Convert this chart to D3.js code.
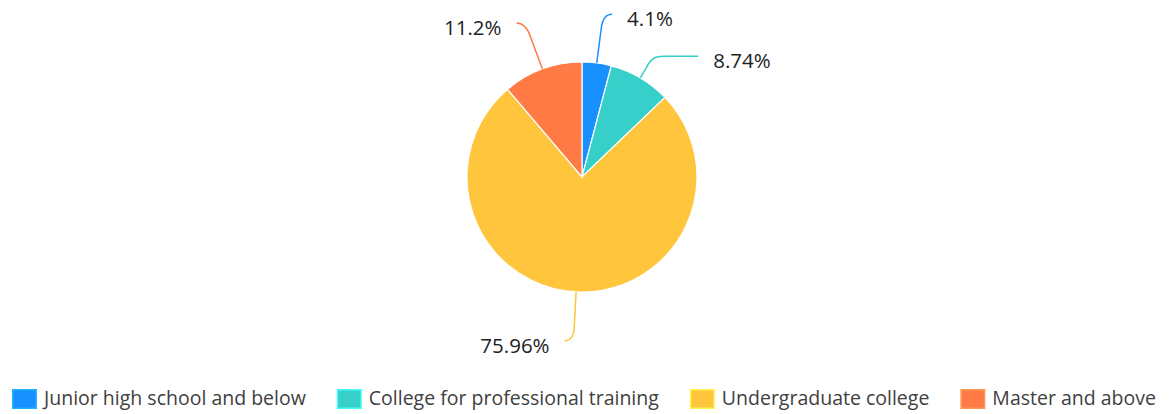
<!DOCTYPE html>
<html><head><meta charset="utf-8">
<script src="https://cdn.jsdelivr.net/npm/d3@7"></script>
<style>html,body{margin:0;padding:0;background:#fff;}svg{display:block;}</style>
</head><body>
<svg id="chart" width="1170" height="414"></svg>
<script>
const categories = ["Junior high school and below","College for professional training","Undergraduate college","Master and above"];
const values = [4.1, 8.74, 75.96, 11.2];
const labels = ["4.1%", "8.74%", "75.96%", "11.2%"];
const colors = ["#1890FF", "#36CFC9", "#FFC53D", "#FF7A45"];

const W = 1170, H = 414;
const cx = 582, cy = 177, R = 115;
const svg = d3.select("#chart");
const FONT = "'Open Sans', 'Noto Sans', sans-serif";

const pie = d3.pie().sort(null).value(d => d.v);
const data = pie(categories.map((c, i) => ({c, v: values[i], label: labels[i], color: colors[i]})));
const arc = d3.arc().innerRadius(0).outerRadius(R);

const g = svg.append("g").attr("transform", `translate(${cx},${cy})`);
g.selectAll("path.slice").data(data).join("path")
  .attr("class", "slice")
  .attr("d", arc)
  .attr("fill", d => d.data.color)
  .attr("stroke", "#fff").attr("stroke-width", 1.2);

// label layout
const polar = (a, r) => [Math.sin(a) * r, -Math.cos(a) * r];
const LR = 164, GAP = 42;
const items = data.map(d => {
  const a = (d.startAngle + d.endAngle) / 2;
  const p = polar(a, LR);
  const side = Math.sin(a) >= 0 ? 1 : -1;
  return {d, a, side, y: p[1], y0: p[1]};
});
[1, -1].forEach(s => {
  const list = items.filter(it => it.side === s).sort((a, b) => a.y - b.y);
  for (let i = 1; i < list.length; i++) {
    if (list[i].y - list[i - 1].y < GAP) list[i].y = list[i - 1].y + GAP;
  }
});
items.forEach(it => {
  const c = Math.cos(it.a);
  const dist = Math.abs(c) > 0.2 ? Math.min(LR, Math.max(R + 20, -it.y / c)) : LR;
  const start = polar(it.a, R);
  const p1 = polar(it.a, dist - 14);
  const ctrl = polar(it.a, dist);
  const shift = Math.abs(it.y - it.y0);
  const endX = ctrl[0] + it.side * (9 + shift * 1.75);
  const endY = it.y;
  const path = d3.path();
  path.moveTo(start[0], start[1]);
  path.lineTo(p1[0], p1[1]);
  if (shift > 0) {
    path.bezierCurveTo(ctrl[0], ctrl[1] - (p1[1] - ctrl[1]) * 0.2, ctrl[0] + it.side * 6, endY, ctrl[0] + it.side * 22, endY);
    path.lineTo(endX, endY);
  } else {
    path.quadraticCurveTo(ctrl[0], ctrl[1], endX, endY);
  }
  g.append("path").attr("d", path.toString())
    .attr("fill", "none").attr("stroke", it.d.data.color).attr("stroke-width", 1.5);
  g.append("text")
    .attr("x", endX + it.side * 15).attr("y", endY + 12)
    .attr("text-anchor", it.side > 0 ? "start" : "end")
    .attr("font-family", FONT).attr("font-size", 20.5)
    .attr("fill", "#222")
    .text(it.d.data.label);
});

// legend
const lg = svg.append("g");
let x = 12;
const ly = 389;
categories.forEach((c, i) => {
  const it = lg.append("g");
  it.append("rect").attr("x", x + 0.75).attr("y", ly + 0.75).attr("width", 23.5).attr("height", 18.5)
    .attr("fill", colors[i]).attr("stroke", d3.color(colors[i]).brighter(0.6)).attr("stroke-width", 1.5);
  const t = it.append("text").attr("x", x + 32).attr("y", ly + 16)
    .attr("font-family", FONT).attr("font-size", 19.5).attr("fill", "#404040").text(c);
  const w = t.node().getComputedTextLength();
  x = x + 32 + w + 31;
});
</script>
</body></html>
